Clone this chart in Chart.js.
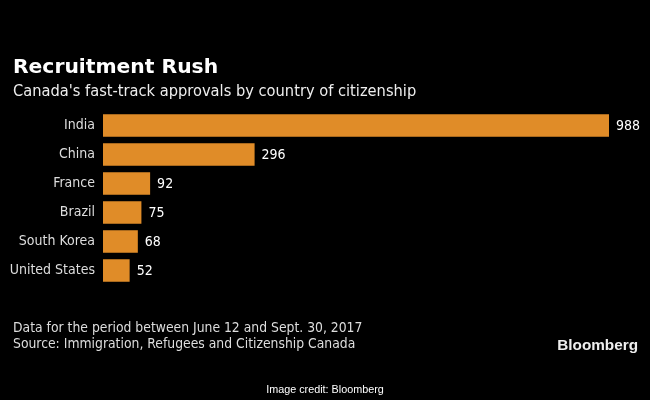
<!DOCTYPE html>
<html>
<head>
<meta charset="utf-8">
<script src="https://cdn.jsdelivr.net/npm/chart.js@4/dist/chart.umd.min.js"></script>
<style>
html,body{margin:0;padding:0;background:#000;}
#wrap{width:650px;height:400px;position:relative;}
</style>
</head>
<body>
<div id="wrap"><canvas id="c" width="650" height="400"></canvas></div>
<script>
const categories = ["India", "China", "France", "Brazil", "South Korea", "United States"];
const approvals = [988, 296, 92, 75, 68, 52];
const titleText = "Recruitment Rush";
const subtitleText = "Canada's fast-track approvals by country of citizenship";
const noteLines = ["Data for the period between June 12 and Sept. 30, 2017", "Source: Immigration, Refugees and Citizenship Canada"];
const brandText = "Bloomberg";
const creditText = "Image credit: Bloomberg";

const COND = '"DejaVu Sans Condensed", "DejaVu Sans", sans-serif';

const textPlugin = {
  id: 'texts',
  beforeDraw(chart) {
    const ctx = chart.ctx;
    ctx.save();
    ctx.fillStyle = '#000';
    ctx.fillRect(0, 0, chart.width, chart.height);
    ctx.restore();
  },
  afterDraw(chart) {
    const ctx = chart.ctx;
    ctx.save();
    ctx.textBaseline = 'alphabetic';
    ctx.textAlign = 'left';
    ctx.fillStyle = '#ffffff';
    ctx.font = 'bold 20.3px "DejaVu Sans", sans-serif';
    ctx.fillText(titleText, 13, 72.5);
    ctx.fillStyle = '#eeeeee';
    ctx.font = '16.3px ' + COND;
    ctx.fillText(subtitleText, 13, 96);
    ctx.fillStyle = '#dddddd';
    ctx.font = '13.8px ' + COND;
    ctx.fillText(noteLines[0], 13, 332);
    ctx.fillText(noteLines[1], 13, 348);
    ctx.fillStyle = '#eeeeee';
    ctx.font = 'bold 15.3px "Liberation Sans", Arial, sans-serif';
    ctx.textAlign = 'right';
    ctx.fillText(brandText, 638, 350);
    ctx.textAlign = 'center';
    ctx.font = '10.8px "Liberation Sans", Arial, sans-serif';
    ctx.fillStyle = '#ffffff';
    ctx.fillText(creditText, 325, 393);
    ctx.restore();
  },
  afterDatasetsDraw(chart) {
    const ctx = chart.ctx;
    const meta = chart.getDatasetMeta(0);
    ctx.save();
    ctx.fillStyle = '#ffffff';
    ctx.font = '14px ' + COND;
    ctx.textAlign = 'left';
    ctx.textBaseline = 'middle';
    meta.data.forEach((bar, i) => {
      ctx.fillText(String(approvals[i]), bar.x + 7, bar.y + 1);
    });
    ctx.restore();
  }
};

new Chart(document.getElementById('c'), {
  type: 'bar',
  data: {
    labels: categories,
    datasets: [{
      data: approvals,
      backgroundColor: 'rgb(224,140,40)',
      borderWidth: 0,
      categoryPercentage: 1,
      barPercentage: 0.776
    }]
  },
  options: {
    indexAxis: 'y',
    responsive: false,
    animation: false,
    devicePixelRatio: 1,
    layout: { padding: { top: 111, bottom: 115, left: 0, right: 41 } },
    plugins: { legend: { display: false }, tooltip: { enabled: false } },
    scales: {
      x: { display: false, min: 0, max: 988 },
      y: {
        grid: { display: false, drawTicks: false },
        border: { display: false },
        ticks: { color: '#dddddd', font: { family: COND, size: 14 }, padding: 8 },
        afterFit(scale) { scale.width = 103; }
      }
    }
  },
  plugins: [textPlugin]
});
</script>
</body>
</html>
